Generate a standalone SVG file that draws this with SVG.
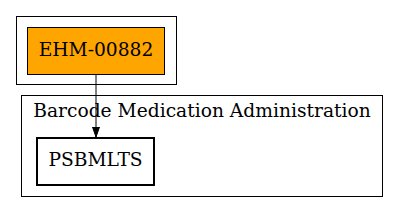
<svg xmlns="http://www.w3.org/2000/svg" width="397" height="212" viewBox="0 0 397 212">
<style>
.cl{fill:none;stroke:#000;stroke-width:1}
text{font-family:"DejaVu Serif",serif;font-size:18.67px;fill:#000}
</style>
<defs>
<marker id="ah" markerWidth="10" markerHeight="10" refX="10" refY="5" orient="auto" markerUnits="userSpaceOnUse">
<path d="M0,1.5 L10,5 L0,8.5 Z" fill="#000" stroke="#000"/>
</marker>
</defs>
<rect width="397" height="212" fill="#fff"/>
<g id="cluster1"><rect class="cl" x="16.5" y="16.5" width="160" height="68"/></g>
<g id="cluster2"><rect class="cl" x="21.5" y="95.5" width="361" height="101"/>
<text x="202" y="116.5" text-anchor="middle">Barcode Medication Administration</text></g>
<g id="edges"><path d="M96,75 V137" stroke="#000" fill="none" marker-end="url(#ah)"/></g>
<g id="n1"><rect x="27.5" y="27.5" width="137" height="47" fill="#ffa500" stroke="#000"/>
<text x="96" y="56" text-anchor="middle">EHM-00882</text></g>
<g id="n2"><rect x="37" y="138" width="117" height="47" fill="#fff" stroke="#000" stroke-width="2"/>
<text x="95.5" y="166" text-anchor="middle">PSBMLTS</text></g>
</svg>
